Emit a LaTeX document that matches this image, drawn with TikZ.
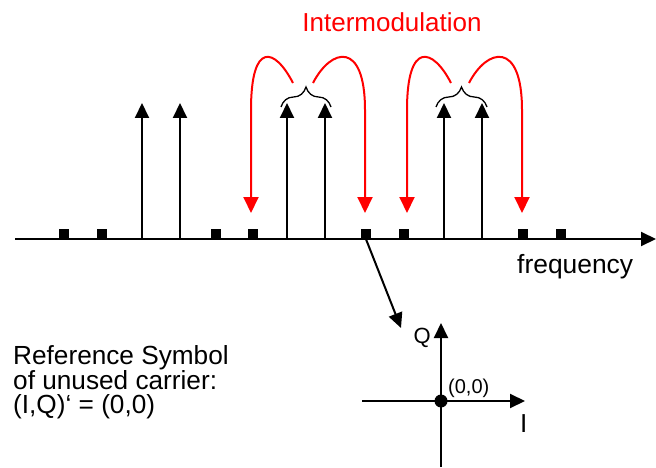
\documentclass[tikz,border=0pt]{standalone}
\usepackage{fontspec}
\setmainfont{Liberation Sans}
\usetikzlibrary{arrows.meta,decorations.pathreplacing}
\begin{document}
\begin{tikzpicture}[x=1pt,y=-1pt,
  carrier/.style={line width=2pt,-{Triangle[length=15pt,width=14pt]}},
  imd/.style={red,line width=2pt,-{Triangle[length=16pt,width=15pt]}},
  unused/.style={fill=black,minimum width=10pt,minimum height=10pt,inner sep=0pt,draw=none,rectangle},
  bracestyle/.style={line width=1.3pt,decorate,decoration={brace,amplitude=20pt}},
  lbl/.style={inner sep=0pt}
]
\useasboundingbox (0,0) rectangle (656,468);
% frequency axis
\coordinate (a0) at (15,239);
\coordinate (a1) at (656,239);
\draw[carrier] (a0) -- (a1);
% unused carriers
\foreach \n/\x in {1/64,2/102,3/216,4/253,5/366,6/404,7/523,8/561}
  \node[unused] (u\n) at (\x,234) {};
% used carriers
\foreach \n/\x in {1/142,2/180,3/287,4/325,5/444,6/482}{
  \coordinate (cb\n) at (\x,239);
  \coordinate (ct\n) at (\x,103);
  \draw[carrier] (cb\n) -- (ct\n);
}
% braces
\coordinate (b1l) at (281,107); \coordinate (b1r) at (331,107);
\coordinate (b2l) at (436,107); \coordinate (b2r) at (487,107);
\draw[bracestyle] (b1l) -- (b1r);
\draw[bracestyle] (b2l) -- (b2r);
% intermodulation arrows
\coordinate (s1) at (293,83); \coordinate (s2) at (313,83);
\coordinate (s3) at (451,83); \coordinate (s4) at (469,83);
\coordinate (e1) at (251,213); \coordinate (e2) at (365,213);
\coordinate (e3) at (407,213); \coordinate (e4) at (522,213);
\draw[imd] (s1) .. controls (275,48) and (251,40) .. (251,110) -- (e1);
\draw[imd] (s2) .. controls (331,48) and (365,40) .. (365,110) -- (e2);
\draw[imd] (s3) .. controls (433,48) and (407,40) .. (407,110) -- (e3);
\draw[imd] (s4) .. controls (487,48) and (522,40) .. (522,110) -- (e4);
\node[lbl,red,anchor=base,font=\fontsize{26}{26}\selectfont] (im) at (392,32) {Intermodulation};
\node[lbl,anchor=base west,font=\fontsize{26.4}{26}\selectfont] (fq) at (517,273) {frequency};
% IQ diagram
\coordinate (o) at (441,401);
\coordinate (iw) at (362,401); \coordinate (ie) at (525,401);
\coordinate (qs) at (441,467); \coordinate (qn) at (441,323);
\draw[carrier] (iw) -- (ie);
\draw[carrier] (qs) -- (qn);
\node[circle,fill=black,minimum size=13pt,inner sep=0pt] (dot) at (o) {};
\coordinate (pt) at (401,328);
\draw[carrier] (u5.south) -- (pt);
\node[lbl,anchor=base east,font=\fontsize{22}{22}\selectfont] (q) at (431,343) {Q};
\node[lbl,anchor=base west,font=\fontsize{20}{20}\selectfont] (zz) at (448,393) {(0,0)};
\node[lbl,anchor=base west,font=\fontsize{26}{26}\selectfont] (il) at (520,432) {I};
\node[lbl,anchor=north west,align=left,font=\fontsize{26.2}{24}\selectfont] (ref) at (13,345)
  {Reference Symbol\\of unused carrier:\\(I,Q)‘ = (0,0)};
\end{tikzpicture}
\end{document}
